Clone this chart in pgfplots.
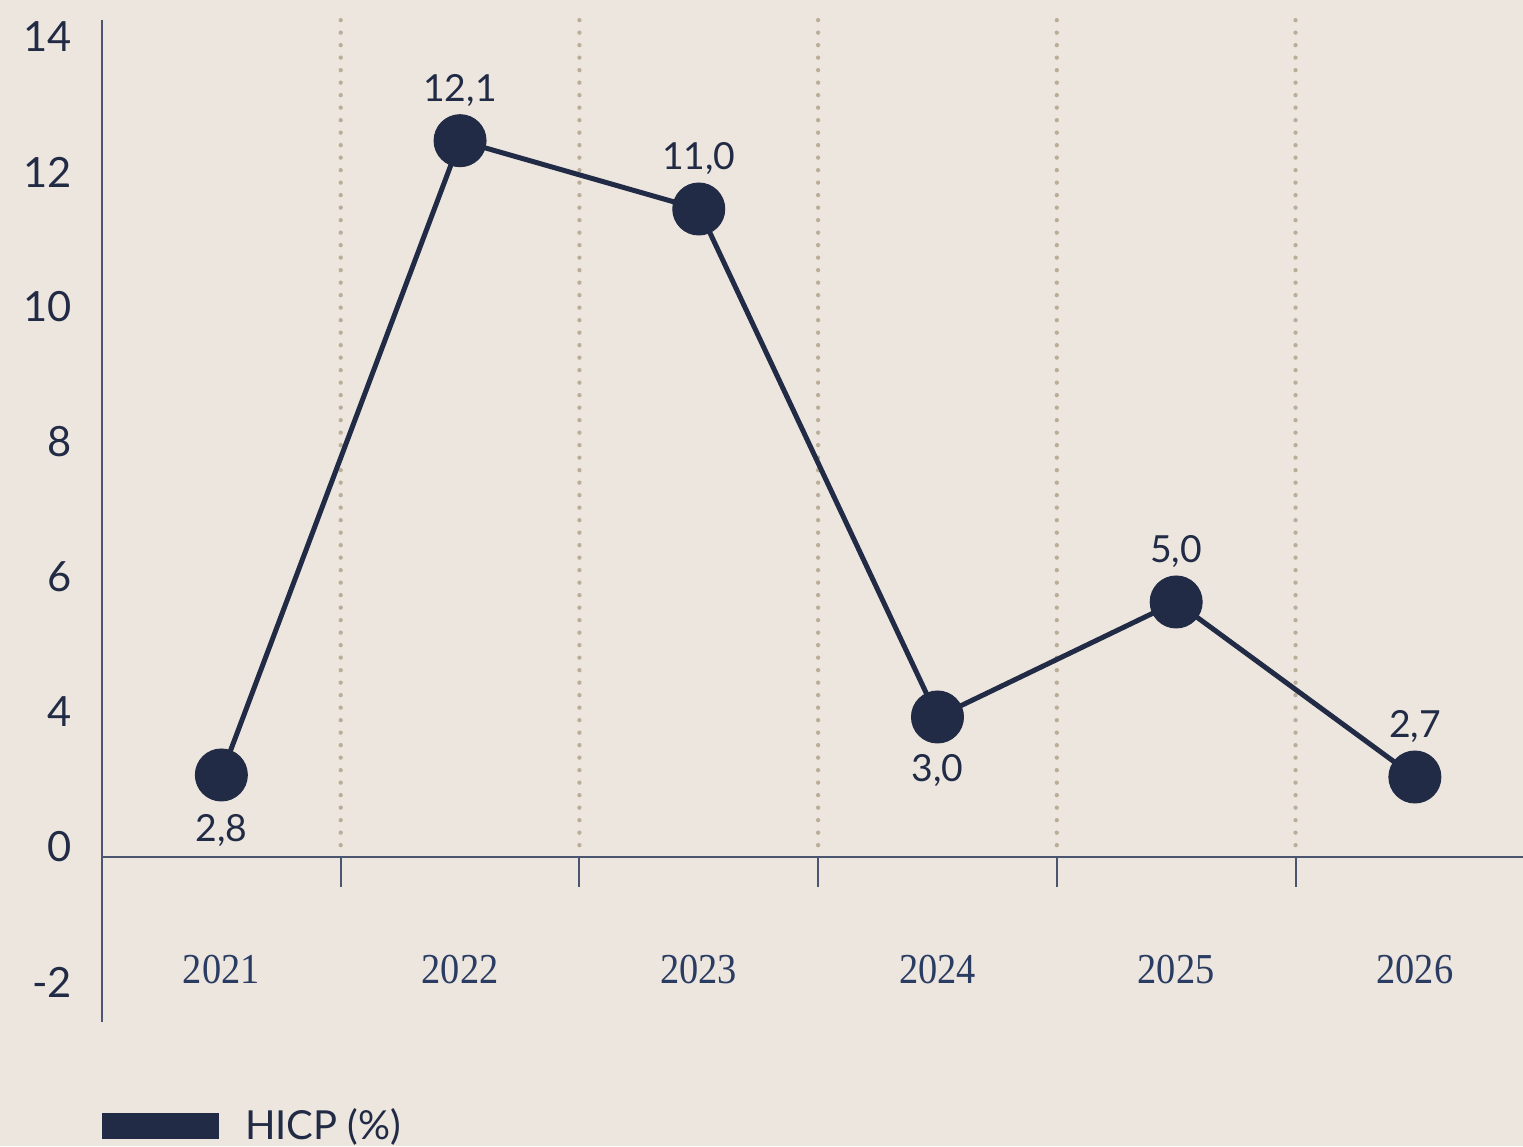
\documentclass[border=0pt]{standalone}
\usepackage{fontspec}
\setmainfont{Lato}
\newfontfamily\yearfont[FakeStretch=0.9]{Liberation Serif}
\usepackage{pgfplots}
\pgfplotsset{compat=1.18}
\definecolor{navy}{HTML}{222B45}
\definecolor{axisc}{HTML}{4C5570}
\definecolor{gridc}{HTML}{BBAE98}
\definecolor{bgc}{HTML}{EDE6DF}
\definecolor{yearc}{HTML}{2B3C63}
\begin{document}
\begin{tikzpicture}
\useasboundingbox (0,0) rectangle (456.9pt,343.8pt);
\fill[bgc] (0,0) rectangle (456.9pt,343.8pt);
\clip (0,0) rectangle (456.9pt,343.8pt);
\begin{axis}[
  at={(30.6pt,37.2pt)}, anchor=south west,
  scale only axis, width=426.3pt, height=300.6pt,
  xmin=-0.5, xmax=5.453, ymin=-0.593, ymax=14.252,
  clip=false,
  axis line style={draw=none},
  major tick length=0pt,
  xtick={0,...,5}, xticklabels={2021,2022,2023,2024,2025,2026},
  ytick={0,2,...,14}, yticklabels={-2,0,4,6,8,10,12,14},
  xticklabel style={anchor=center, inner sep=0pt, yshift=15.75pt, font=\yearfont\fontsize{12.8}{14}\selectfont, text=yearc},
  yticklabel style={anchor=east, inner sep=0pt, xshift=-8.8pt, font=\fontsize{12.5}{14}\selectfont, text=navy},
  legend style={at={(rel axis cs:0,0)}, anchor=west, yshift=-31.2pt, draw=none, fill=none, inner sep=0pt, outer sep=0pt, font=\fontsize{12}{14}\selectfont, text=navy, nodes={inner sep=0pt}, /tikz/every odd column/.append style={column sep=7.8pt}},
]
\pgfplotsinvokeforeach{0.5,1.5,2.5,3.5,4.5}{
  \draw[gridc, line width=1.3pt, line cap=round, dash pattern=on 0pt off 3.75pt] (axis cs:#1,14.25) -- (axis cs:#1,1.93);
  \draw[axisc, line width=0.6pt] (axis cs:#1,1.852) -- (axis cs:#1,1.407);
}
\draw[axisc, line width=0.6pt] (axis cs:-0.5,1.852) -- (axis cs:5.453,1.852);
\draw[axisc, line width=0.6pt] (axis cs:-0.5,-0.593) -- (axis cs:-0.5,14.252);
\addplot[navy, line width=1.5pt, mark=*, mark size=7.8pt,
  mark options={fill=navy, draw=navy, line width=0.3pt},
  point meta=explicit symbolic,
  visualization depends on={\thisrow{pos} \as \lpos},
  nodes near coords, nodes near coords align={center},
  every node near coord/.append style={anchor=center, font=\fontsize{11.2}{13}\selectfont, text=navy, yshift=\lpos},
  legend image code/.code={\fill[navy] (0pt,-3.15pt) rectangle (33.6pt,3.15pt);}
] table[x=x, y=y, meta=label] {
x y label pos
0 3.067 2,8 -16.8pt
1 12.464 12,1 15.2pt
2 11.452 11,0 15.2pt
3 3.926 3,0 -16.2pt
4 5.630 5,0 15.2pt
5 3.037 2,7 15.2pt
};
\addlegendentry{HICP (\%)}
\end{axis}
\end{tikzpicture}
\end{document}
